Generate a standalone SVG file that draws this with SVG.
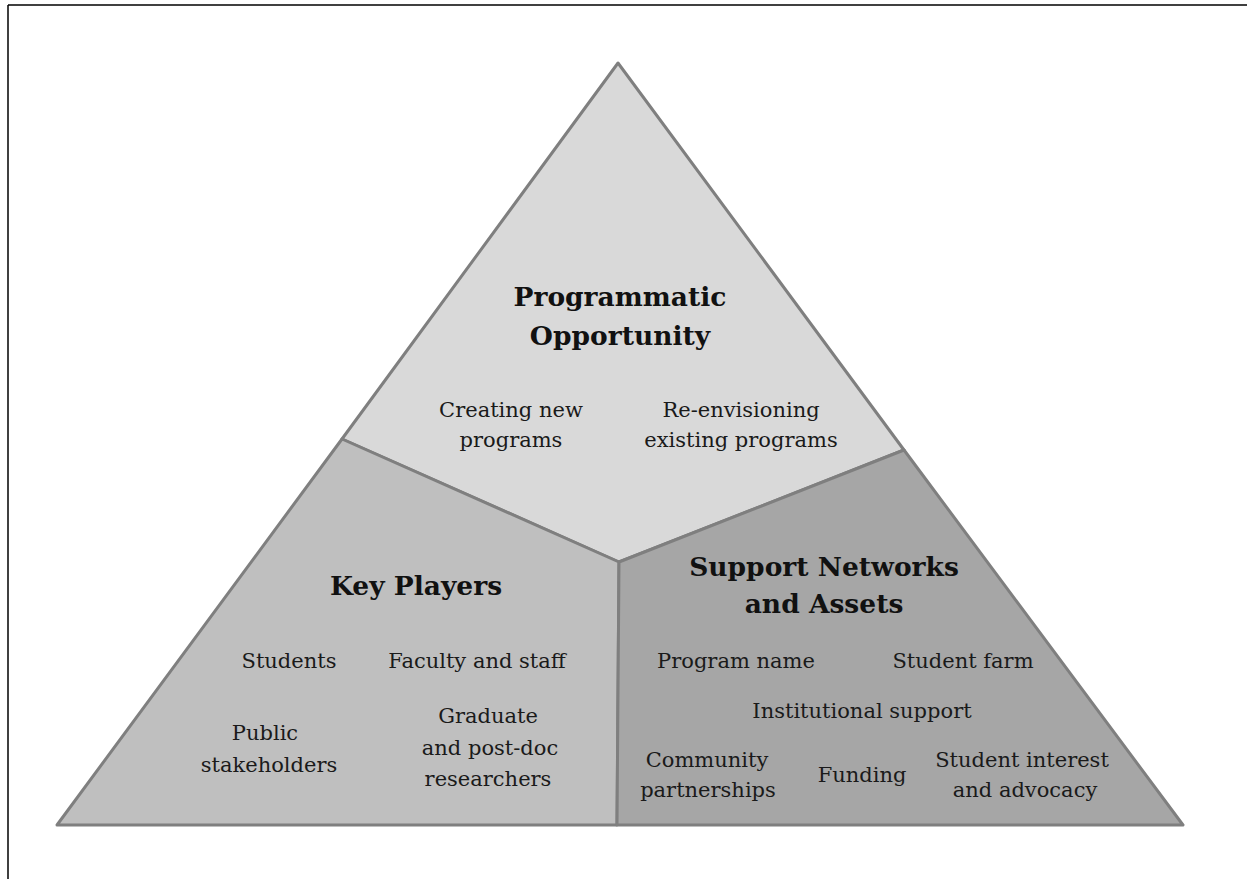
<svg xmlns="http://www.w3.org/2000/svg" width="1247" height="879" viewBox="0 0 1247 879">
<style>
.region{stroke:#7f7f7f;stroke-width:3;stroke-linejoin:round}
.t{font-family:"DejaVu Serif","Liberation Serif",serif;font-size:21px;fill:#1a1a1a;text-anchor:middle}
.h{font-family:"DejaVu Serif","Liberation Serif",serif;font-size:26.5px;font-weight:bold;fill:#111;text-anchor:middle}
</style>
<rect width="1247" height="879" fill="#ffffff"/>
<g id="frame" stroke="#000" stroke-width="1.5" fill="none">
<line x1="8" y1="5" x2="1247" y2="5"/>
<line x1="8" y1="5" x2="8" y2="879"/>
</g>
<g id="programmatic-opportunity">
<polygon class="region" fill="#d9d9d9" points="618,63 904,450 619,562 342,439"/>
<text class="h" x="620" y="306">Programmatic</text>
<text class="h" x="620" y="345">Opportunity</text>
<text class="t" x="511" y="417">Creating new</text>
<text class="t" x="511" y="447">programs</text>
<text class="t" x="741" y="417">Re-envisioning</text>
<text class="t" x="741" y="447">existing programs</text>
</g>
<g id="key-players">
<polygon class="region" fill="#bfbfbf" points="342,439 619,562 617,825 57,825"/>
<text class="h" x="416" y="595">Key Players</text>
<text class="t" x="289" y="668">Students</text>
<text class="t" x="477" y="668">Faculty and staff</text>
<text class="t" x="265" y="740">Public</text>
<text class="t" x="269" y="772">stakeholders</text>
<text class="t" x="488" y="723">Graduate</text>
<text class="t" x="490" y="755">and post-doc</text>
<text class="t" x="488" y="786">researchers</text>
</g>
<g id="support-networks">
<polygon class="region" fill="#a6a6a6" points="619,562 904,450 1183,825 617,825"/>
<text class="h" x="824" y="576">Support Networks</text>
<text class="h" x="824" y="613">and Assets</text>
<text class="t" x="736" y="668">Program name</text>
<text class="t" x="963" y="668">Student farm</text>
<text class="t" x="862" y="718">Institutional support</text>
<text class="t" x="707" y="767">Community</text>
<text class="t" x="708" y="797">partnerships</text>
<text class="t" x="862" y="782">Funding</text>
<text class="t" x="1022" y="767">Student interest</text>
<text class="t" x="1025" y="797">and advocacy</text>
</g>
<g id="connectors"></g>
</svg>
